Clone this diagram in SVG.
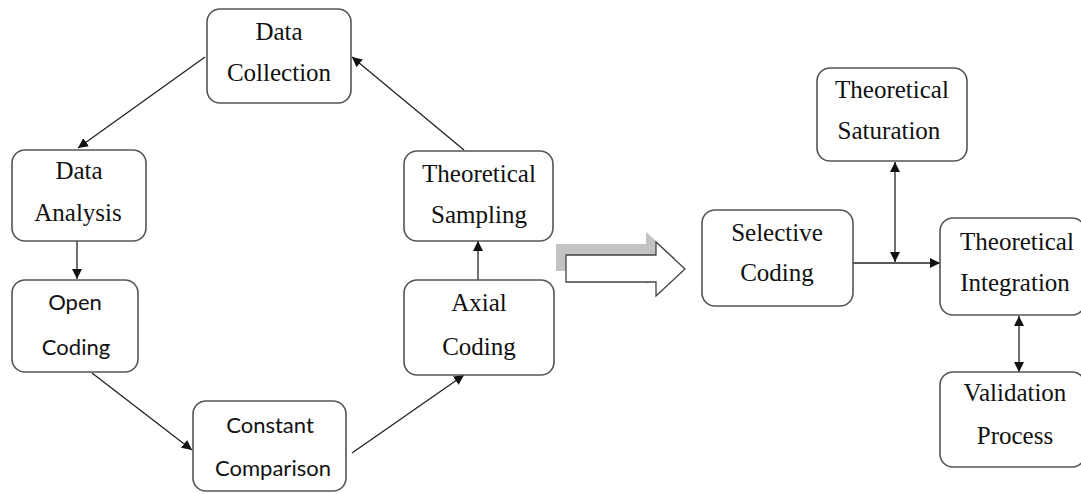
<svg xmlns="http://www.w3.org/2000/svg" width="1081" height="494" viewBox="0 0 1081 494">
<style>
.box{fill:#fff;stroke:#555;stroke-width:1.6}
.s{font-family:"Liberation Serif","Times New Roman",serif;font-size:25px;fill:#111;text-anchor:middle}
.c{font-family:Lato,"Open Sans","Liberation Sans",sans-serif;font-size:22px;fill:#111;text-anchor:middle}
.ln{stroke:#222;stroke-width:1.3;fill:none}
</style>
<defs>
<marker id="ah" viewBox="0 0 10 10" refX="10" refY="5" markerWidth="10" markerHeight="10" markerUnits="userSpaceOnUse" orient="auto-start-reverse">
<path d="M0,0 L10,5 L0,10 z" fill="#111"/>
</marker>
</defs>
<rect width="1081" height="494" fill="#fff"/>
<g id="connectors">
<line class="ln" x1="205" y1="57" x2="78" y2="148" marker-end="url(#ah)"/>
<line class="ln" x1="77" y1="241" x2="77" y2="279" marker-end="url(#ah)"/>
<line class="ln" x1="92" y1="373" x2="192" y2="450" marker-end="url(#ah)"/>
<line class="ln" x1="352" y1="453" x2="464" y2="375" marker-end="url(#ah)"/>
<line class="ln" x1="478" y1="280" x2="478" y2="241" marker-end="url(#ah)"/>
<line class="ln" x1="464" y1="150" x2="352" y2="57" marker-end="url(#ah)"/>
<line class="ln" x1="853" y1="263" x2="940" y2="263" marker-end="url(#ah)"/>
<line class="ln" x1="895" y1="262" x2="895" y2="162" marker-start="url(#ah)" marker-end="url(#ah)"/>
<line class="ln" x1="1019" y1="316" x2="1019" y2="372" marker-start="url(#ah)" marker-end="url(#ah)"/>
<g id="big-arrow">
<path d="M556,244 L646,244 L646,232 L675,258 L646,284 L646,271 L556,271 z" fill="#c3c3c3"/>
<path d="M566,255 L656,255 L656,242 L685,269 L656,296 L656,282 L566,282 z" fill="#fff" stroke="#444" stroke-width="1.3"/>
</g>
</g>
<g id="data-collection">
<rect class="box" x="207" y="9" width="144" height="94" rx="13"/>
<text class="s" x="279" y="40">Data</text>
<text class="s" x="279" y="81">Collection</text>
</g>
<g id="data-analysis">
<rect class="box" x="12" y="150" width="134" height="91" rx="13"/>
<text class="s" x="79" y="179">Data</text>
<text class="s" x="78" y="221">Analysis</text>
</g>
<g id="open-coding">
<rect class="box" x="12" y="280" width="126" height="92" rx="13"/>
<text class="c" x="75" y="310">Open</text>
<text class="c" x="76" y="355">Coding</text>
</g>
<g id="constant-comparison">
<rect class="box" x="193" y="401" width="153" height="90" rx="13"/>
<text class="c" x="270" y="433">Constant</text>
<text class="c" x="273" y="476">Comparison</text>
</g>
<g id="axial-coding">
<rect class="box" x="404" y="280" width="150" height="95" rx="13"/>
<text class="s" x="479" y="311">Axial</text>
<text class="s" x="479" y="355">Coding</text>
</g>
<g id="theoretical-sampling">
<rect class="box" x="404" y="151" width="149" height="90" rx="13"/>
<text class="s" x="479" y="182">Theoretical</text>
<text class="s" x="479" y="223">Sampling</text>
</g>
<g id="selective-coding">
<rect class="box" x="702" y="210" width="151" height="96" rx="13"/>
<text class="s" x="777" y="241">Selective</text>
<text class="s" x="777" y="281">Coding</text>
</g>
<g id="theoretical-saturation">
<rect class="box" x="817" y="68" width="150" height="93" rx="13"/>
<text class="s" x="892" y="98">Theoretical</text>
<text class="s" x="889" y="139">Saturation</text>
</g>
<g id="theoretical-integration">
<rect class="box" x="940" y="218" width="145" height="97" rx="13"/>
<text class="s" x="1017" y="250">Theoretical</text>
<text class="s" x="1015" y="291">Integration</text>
</g>
<g id="validation-process">
<rect class="box" x="940" y="372" width="145" height="95" rx="13"/>
<text class="s" x="1015" y="401">Validation</text>
<text class="s" x="1015" y="444">Process</text>
</g>
</svg>
